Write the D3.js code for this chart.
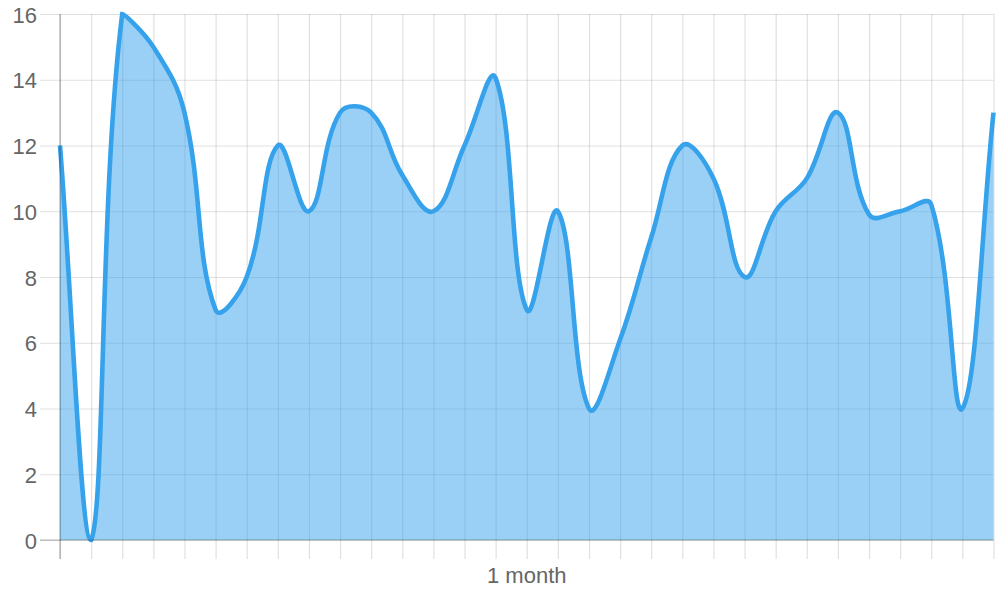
<!DOCTYPE html>
<html>
<head>
<meta charset="utf-8">
<script src="https://cdn.jsdelivr.net/npm/d3@7"></script>
<style>
  body { margin: 0; background: #fff; }
  svg { display: block; font-family: "Liberation Sans", Arial, sans-serif; }
</style>
</head>
<body>
<svg width="1000" height="600"></svg>
<script>
// area chart, one month of daily values

var days = [1, 2, 3, 4, 5, 6, 7, 8, 9, 10, 11, 12, 13, 14, 15, 16,
            17, 18, 19, 20, 21, 22, 23, 24, 25, 26, 27, 28, 29, 30, 31];
var values = [12, 0, 16, 15, 13, 7, 8, 12, 10, 13, 13, 11.1, 10, 12, 14.05, 7,
              10, 4, 6.1, 9.2, 12, 11, 8, 10, 11, 13, 9.9, 10, 10.2, 4, 13];
var yTicks = [0, 2, 4, 6, 8, 10, 12, 14, 16];
var xTitle = "1 month";

var svg = d3.select("svg"),
    area = { left: 60, right: 993.5, top: 14, bottom: 540 },
    tickLen = 19;

var x = d3.scalePoint()
    .domain(days)
    .range([area.left, area.right]);

var y = d3.scaleLinear()
    .domain([0, 16])
    .range([area.bottom, area.top]);

// grid lines (drawn under the fill)
svg.append("g")
    .attr("class", "grid x")
    .attr("transform", "translate(0," + (area.bottom + tickLen) + ")")
    .call(d3.axisBottom(x).tickSize(-(area.bottom + tickLen - area.top)).tickFormat(""))
    .call(function (g) {
      g.select(".domain").remove();
      g.selectAll("line").attr("stroke", "rgba(0,0,0,0.12)").attr("stroke-width", 1.2);
    });

svg.append("g")
    .attr("class", "grid y")
    .attr("transform", "translate(" + (area.left - tickLen - 1) + ",0)")
    .call(d3.axisLeft(y).tickValues(yTicks).tickSize(-(area.right - area.left + tickLen + 1)).tickPadding(3))
    .call(function (g) {
      g.select(".domain").remove();
      g.selectAll("line").attr("stroke", "rgba(0,0,0,0.12)").attr("stroke-width", 1.2);
      g.selectAll("text")
        .attr("fill", "#666")
        .attr("font-size", 22)
        .attr("dy", "0.37em");
    });

// chart.js style bezier (tension 0.4, distance weighted, capped to the area)
function splinePath(pts, t) {
  var cap = function (p) {
    return [Math.max(area.left, Math.min(area.right, p[0])),
            Math.max(area.top, Math.min(area.bottom, p[1]))];
  };
  var cps = pts.map(function (cur, i) {
    var prev = pts[i - 1] || cur, next = pts[i + 1] || cur;
    var d01 = Math.hypot(cur[0] - prev[0], cur[1] - prev[1]);
    var d12 = Math.hypot(next[0] - cur[0], next[1] - cur[1]);
    var s01 = d01 / (d01 + d12), s12 = d12 / (d01 + d12);
    if (isNaN(s01)) s01 = 0;
    if (isNaN(s12)) s12 = 0;
    var fa = t * s01, fb = t * s12;
    return {
      prev: cap([cur[0] - fa * (next[0] - prev[0]), cur[1] - fa * (next[1] - prev[1])]),
      next: cap([cur[0] + fb * (next[0] - prev[0]), cur[1] + fb * (next[1] - prev[1])])
    };
  });
  var p = d3.path();
  p.moveTo(pts[0][0], pts[0][1]);
  for (var i = 1; i < pts.length; i++) {
    p.bezierCurveTo(cps[i - 1].next[0], cps[i - 1].next[1], cps[i].prev[0], cps[i].prev[1], pts[i][0], pts[i][1]);
  }
  return p.toString();
}

var pts = days.map(function (d, i) { return [x(d), y(values[i])]; });
var linePath = splinePath(pts, 0.4);

svg.append("defs").append("clipPath")
    .attr("id", "clip")
  .append("rect")
    .attr("x", area.left - 3).attr("y", area.top - 3)
    .attr("width", area.right - area.left + 6).attr("height", area.bottom - area.top + 6);

var plot = svg.append("g").attr("clip-path", "url(#clip)");

plot.append("path")
    .attr("d", linePath + "L" + x(days[days.length - 1]) + "," + y(0) + "L" + x(days[0]) + "," + y(0) + "Z")
    .attr("fill", "rgba(54,162,235,0.5)")
    .attr("stroke", "none");

// axis border lines
svg.append("line")
    .attr("x1", area.left).attr("x2", area.left)
    .attr("y1", area.top).attr("y2", area.bottom + tickLen)
    .attr("stroke", "rgba(0,0,0,0.3)").attr("stroke-width", 1.2);
svg.append("line")
    .attr("x1", area.left - tickLen - 1).attr("x2", area.right)
    .attr("y1", area.bottom).attr("y2", area.bottom)
    .attr("stroke", "rgba(0,0,0,0.3)").attr("stroke-width", 1.2);

plot.append("path")
    .attr("d", linePath)
    .attr("fill", "none")
    .attr("stroke", "rgb(54,162,235)")
    .attr("stroke-width", 4.6);

svg.append("text")
    .attr("x", (area.left + area.right) / 2)
    .attr("y", 583)
    .attr("text-anchor", "middle")
    .attr("fill", "#666")
    .attr("font-size", 22)
    .text(xTitle);
</script>
</body>
</html>
